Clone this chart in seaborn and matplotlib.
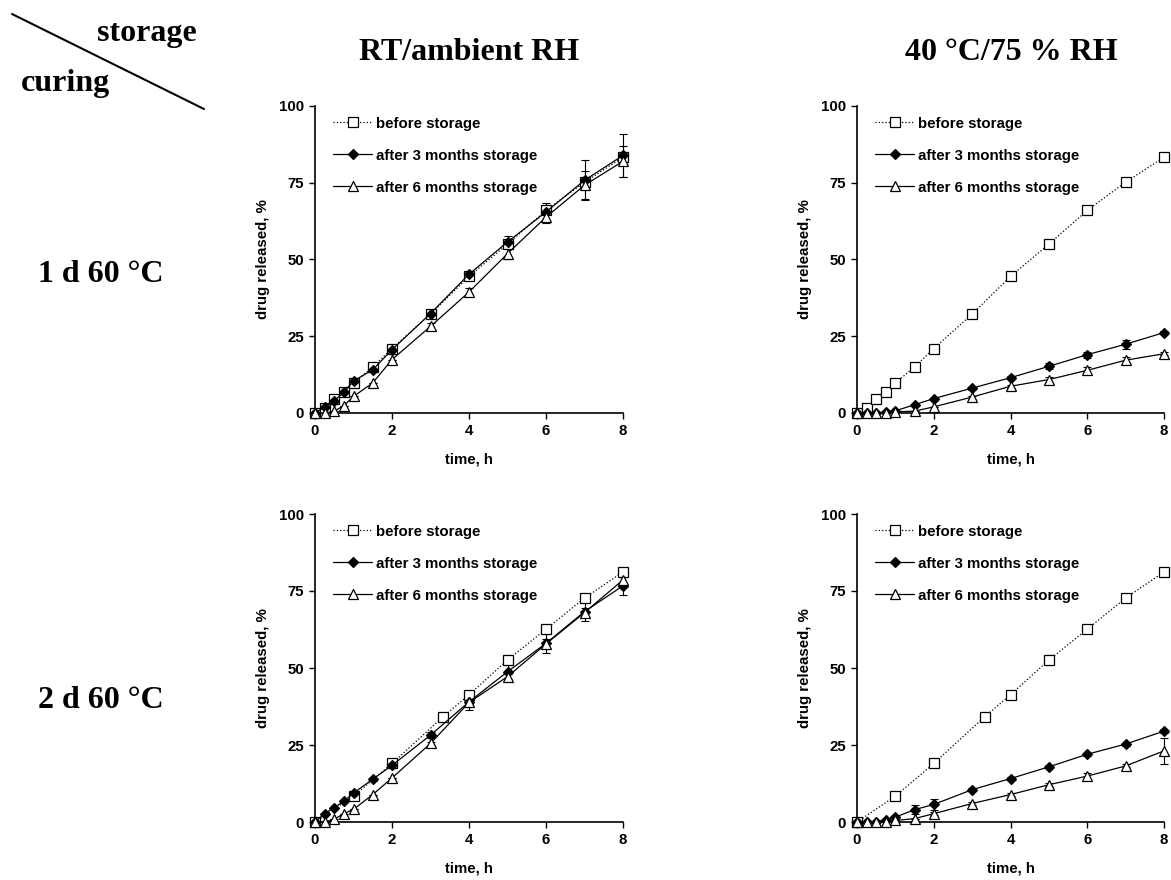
import matplotlib
matplotlib.use("Agg")
import matplotlib.pyplot as plt
from matplotlib.lines import Line2D
import seaborn as sns

# ---------------- data ----------------
time_full = [0, 0.25, 0.5, 0.75, 1, 1.5, 2, 3, 4, 5, 6, 7, 8]
time_before_2d = [0, 1, 2, 3.33, 4, 5, 6, 7, 8]

series_labels = ["before storage", "after 3 months storage", "after 6 months storage"]
col_titles = ["RT/ambient RH", "40 \u00b0C/75 % RH"]
row_titles = ["1 d 60 \u00b0C", "2 d 60 \u00b0C"]
x_ticks = [0, 2, 4, 6, 8]
y_ticks = [0, 25, 50, 75, 100]

before_1d = [0, 1.6, 4.4, 6.9, 9.8, 15.0, 21.0, 32.2, 44.5, 55.0, 66.0, 75.2, 83.3]
before_1d_err = [0, 0, 0, 0, 0, 0, 0, 0, 0.5, 0.5, 0.5, 0.5, 1.0]
rt_3m_1d = [0, 2.0, 4.0, 6.8, 10.4, 14.1, 20.6, 32.4, 45.2, 55.7, 65.5, 75.8, 83.9]
rt_3m_1d_err = [0, 0, 0, 0, 0, 0, 0.5, 0.5, 0.8, 2.0, 3.0, 6.5, 7.0]
rt_6m_1d = [0, 0, 0.6, 2.4, 5.4, 9.8, 17.4, 28.2, 39.4, 51.9, 63.8, 74.2, 82.0]
rt_6m_1d_err = [0, 0, 0, 0, 0, 0, 0, 1.0, 1.3, 1.8, 2.0, 4.5, 5.0]
hh_3m_1d = [0, 0, 0, 0.3, 0.7, 2.7, 4.7, 8.1, 11.5, 15.2, 19.0, 22.4, 26.2]
hh_3m_1d_err = [0, 0, 0, 0, 0, 0, 0, 0.5, 0.5, 1.0, 1.0, 1.5, 0.5]
hh_6m_1d = [0, 0, 0, 0, 0.4, 0.6, 2.0, 5.2, 8.7, 10.9, 13.9, 17.2, 19.3]
hh_6m_1d_err = [0, 0, 0, 0, 0, 0, 0, 0.5, 0.5, 0.8, 1.0, 1.2, 0.5]

before_2d = [0, 8.4, 19.0, 34.2, 41.3, 52.6, 62.6, 72.7, 81.2]
before_2d_err = [0, 0, 0.5, 0, 1.0, 1.5, 1.0, 0.5, 0.5]
rt_3m_2d = [0, 2.7, 4.7, 6.7, 9.4, 13.9, 18.4, 28.2, 39.0, 48.8, 58.0, 68.3, 76.7]
rt_3m_2d_err = [0, 0, 0, 0, 0, 0.5, 1.0, 1.0, 2.5, 2.5, 3.0, 3.0, 3.0]
rt_6m_2d = [0, 0, 0.9, 2.7, 4.1, 8.9, 14.3, 25.5, 38.8, 47.2, 57.8, 68.0, 78.6]
rt_6m_2d_err = [0, 0, 0, 0, 0, 0, 0, 0.5, 1.0, 1.0, 1.5, 1.5, 1.5]
hh_3m_2d = [0, 0, 0, 0.8, 1.6, 4.0, 5.7, 10.5, 14.1, 17.9, 22.0, 25.3, 29.5]
hh_3m_2d_err = [0, 0, 0, 0, 0, 1.5, 1.8, 0.5, 0.5, 0.5, 0.5, 0.5, 0.5]
hh_6m_2d = [0, 0, 0, 0, 0.5, 1.1, 2.7, 6.0, 8.9, 12.1, 14.9, 18.2, 23.1]
hh_6m_2d_err = [0, 0, 0, 0, 0, 0, 0.5, 0.5, 0.5, 0.5, 1.0, 0.5, 4.3]

# ---------------- style ----------------
sns.set_style("ticks")
plt.rcParams["font.family"] = ["Liberation Sans", "DejaVu Sans"]
plt.rcParams["font.weight"] = "bold"
for k in ["text.color", "axes.labelcolor", "xtick.color", "ytick.color", "axes.edgecolor"]:
    plt.rcParams[k] = "black"

W, H = 1171, 880
fig = plt.figure(figsize=(W / 100, H / 100), dpi=100)


def fx(px):
    return px / W


def fy(py):
    return 1 - py / H


# axes boxes (pixel coordinates: left, top, right, bottom)
boxes = {
    (0, 0): (315, 106, 623, 413),
    (0, 1): (857, 106, 1164, 413),
    (1, 0): (315, 514, 623, 822),
    (1, 1): (857, 514, 1164, 822),
}

panels = {
    (0, 0): [(time_full, before_1d, before_1d_err), (time_full, rt_3m_1d, rt_3m_1d_err), (time_full, rt_6m_1d, rt_6m_1d_err)],
    (0, 1): [(time_full, before_1d, before_1d_err), (time_full, hh_3m_1d, hh_3m_1d_err), (time_full, hh_6m_1d, hh_6m_1d_err)],
    (1, 0): [(time_before_2d, before_2d, before_2d_err), (time_full, rt_3m_2d, rt_3m_2d_err), (time_full, rt_6m_2d, rt_6m_2d_err)],
    (1, 1): [(time_before_2d, before_2d, before_2d_err), (time_full, hh_3m_2d, hh_3m_2d_err), (time_full, hh_6m_2d, hh_6m_2d_err)],
}

styles = [
    dict(linestyle=":", marker="s", markerfacecolor="white", markeredgecolor="black", markersize=6.5),
    dict(linestyle="-", marker="D", markerfacecolor="black", markeredgecolor="black", markersize=5),
    dict(linestyle="-", marker="^", markerfacecolor="white", markeredgecolor="black", markersize=7.5),
]

fs = 10.8
for key, (l, t, r, b) in boxes.items():
    ax = fig.add_axes([fx(l), fy(b), fx(r - l), (b - t) / H])
    for (tt, vals, errs), lab, st in zip(panels[key], series_labels, styles):
        ax.errorbar(tt, vals, yerr=errs, fmt="none", ecolor="black", elinewidth=0.8,
                    capsize=3, capthick=0.8, clip_on=False, zorder=2)
        sns.lineplot(x=tt, y=vals, ax=ax, color="black", linewidth=0.9, label=lab,
                     markeredgewidth=0.9, clip_on=False, zorder=3, **st)
    ax.set_xlim(0, 8)
    ax.set_ylim(0, 100)
    ax.set_xticks(x_ticks)
    ax.set_yticks(y_ticks)
    ax.tick_params(direction="out", length=4, width=1, labelsize=fs, pad=4,
                   color="black", labelcolor="black")
    for lab in ax.get_xticklabels() + ax.get_yticklabels():
        lab.set_fontweight("bold")
    sns.despine(ax=ax)
    for s in ["left", "bottom"]:
        ax.spines[s].set_linewidth(1.2)
        ax.spines[s].set_color("black")
    ax.set_xlabel("time, h", fontsize=fs, fontweight="bold", labelpad=10, color="black")
    ax.set_ylabel("drug released, %", fontsize=fs, fontweight="bold", labelpad=6, color="black")
    leg = ax.legend(loc="upper left", bbox_to_anchor=(0.04, 0.985), frameon=False,
                    fontsize=fs, handlelength=2.6, handletextpad=0.25, labelspacing=1.2,
                    borderaxespad=0)
    for txt in leg.get_texts():
        txt.set_fontweight("bold")
        txt.set_color("black")

# ---------------- headings ----------------
serif = ["Liberation Serif", "DejaVu Serif"]
hs = 23
kw = dict(ha="center", va="center", fontsize=hs, fontweight="bold", family=serif, color="black")
fig.text(fx(469), fy(52), col_titles[0], **kw)
fig.text(fx(1011), fy(53), col_titles[1], **kw)
fig.text(fx(101), fy(275), row_titles[0], **kw)
fig.text(fx(101), fy(700), row_titles[1], **kw)
fig.text(fx(147), fy(33), "storage", **kw)
fig.text(fx(66), fy(84), "curing", **kw)
fig.add_artist(Line2D([fx(12), fx(204)], [fy(14), fy(109)], color="black", linewidth=1.5))

fig.savefig("out.png", dpi=100)
